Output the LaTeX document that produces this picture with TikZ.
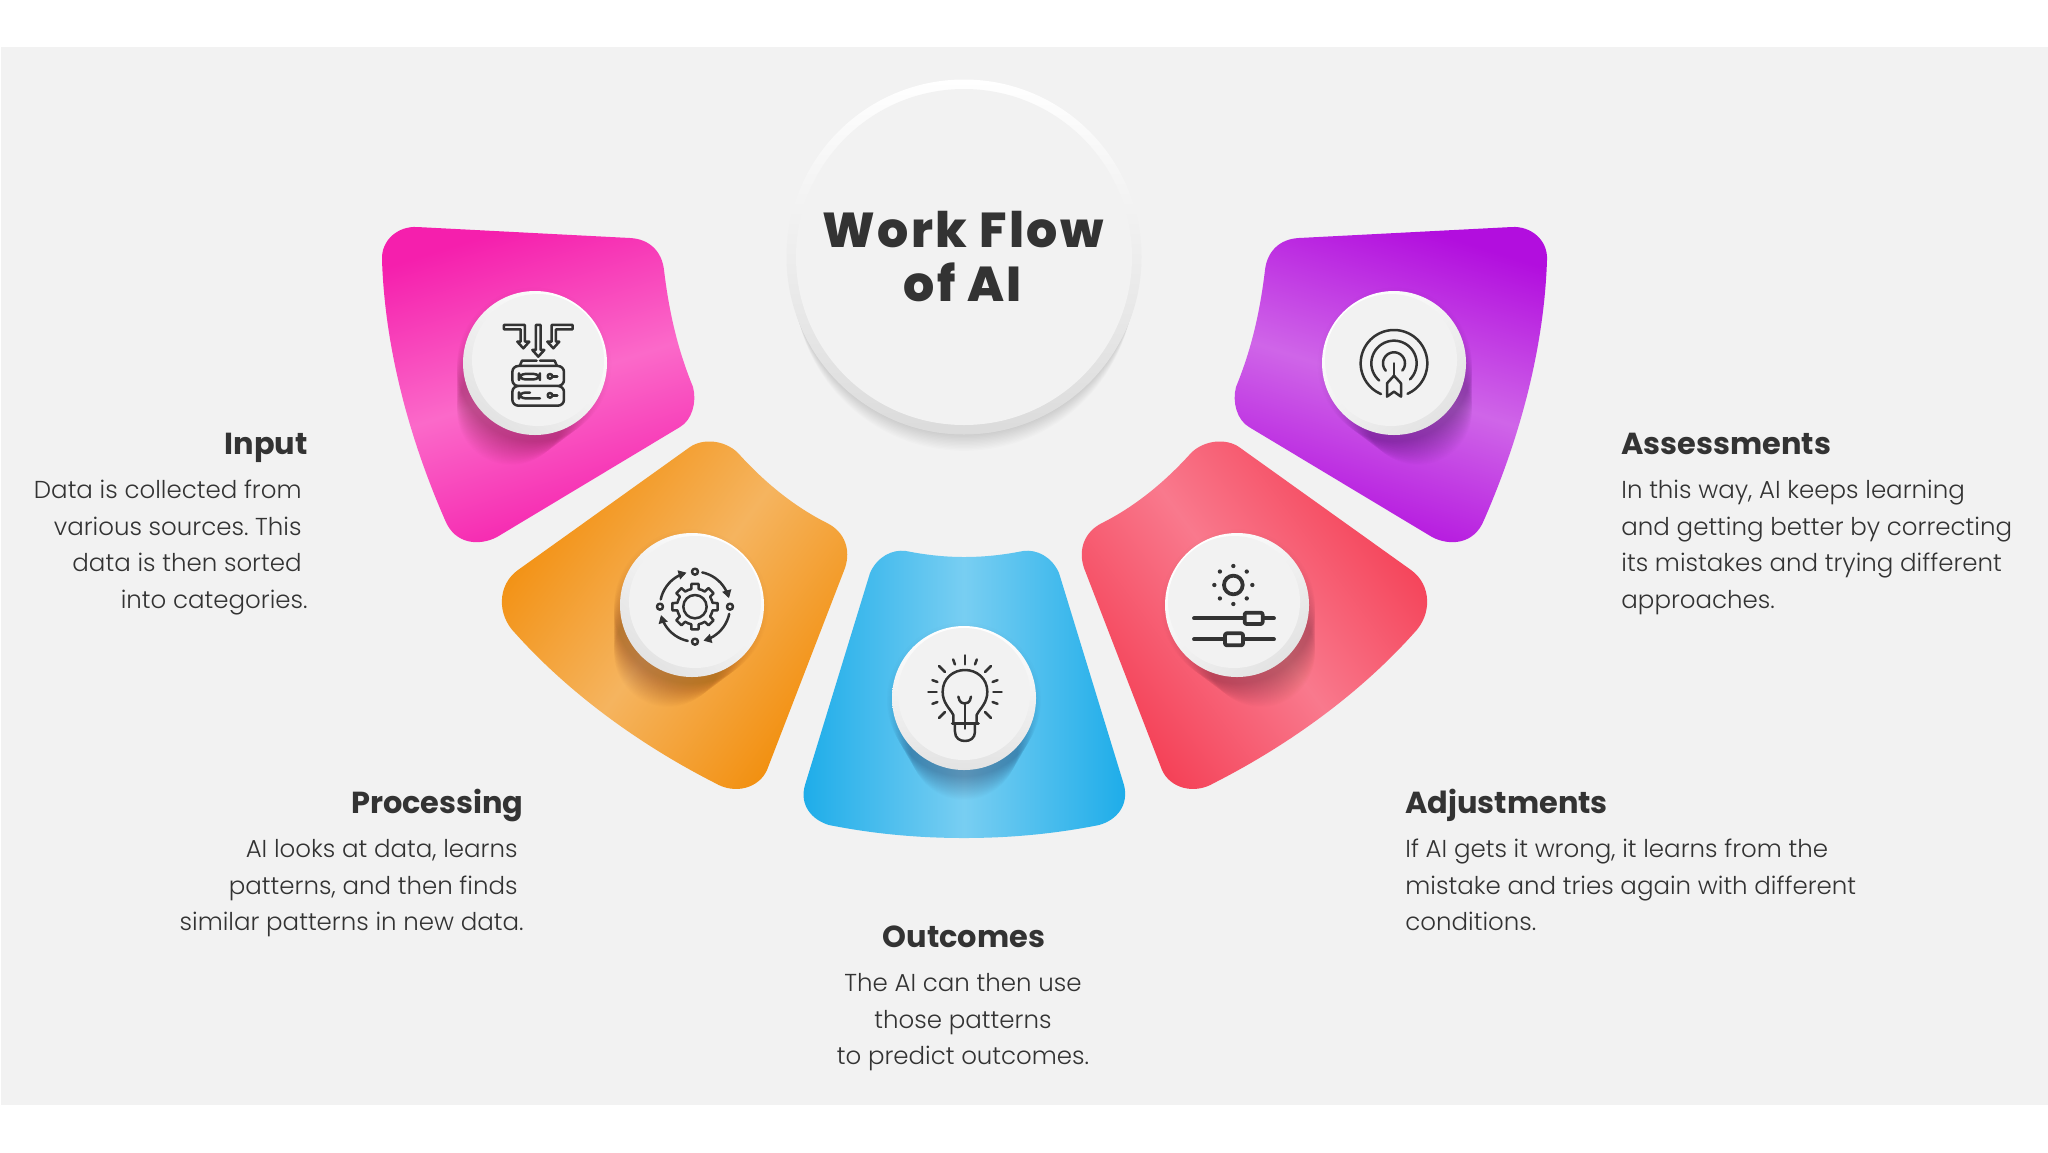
\documentclass[tikz,border=0pt]{standalone}
\usepackage{xcolor}
\usepackage{fontspec}
\usepackage{tikz}
\usetikzlibrary{positioning, arrows.meta}

\setmainfont{Poppins Light}[BoldFont={Poppins Bold}]
\newfontfamily\titlefont{Poppins ExtraBold}[LetterSpace=5]

\definecolor{inkgrey}{HTML}{333333}
\definecolor{panelgrey}{HTML}{F2F2F2}
\definecolor{pinkdark}{HTML}{F51FAD}
\definecolor{pinklight}{HTML}{FB69C9}
\definecolor{orangedark}{HTML}{F28E0C}
\definecolor{orangelight}{HTML}{F5B45F}
\definecolor{bluedark}{HTML}{1CACE9}
\definecolor{bluelight}{HTML}{78CEF2}
\definecolor{reddark}{HTML}{F43E54}
\definecolor{redlight}{HTML}{F9798D}
\definecolor{purpledark}{HTML}{B20EDE}
\definecolor{purplelight}{HTML}{CF65E8}

% the two kinds of side petal, mirrored on the right
\newcommand{\topwing}{(417,227) -- (630,238) .. controls (650,239) and (662,252) .. (664,270)
    .. controls (670,320) and (680,355) .. (693,387) .. controls (697,402) and (692,420) .. (680,427)
    -- (497,537) .. controls (480,546) and (455,545) .. (445,520)
    .. controls (410,440) and (385,350) .. (382,260) .. controls (381,240) and (398,226) .. (417,227) -- cycle}
\newcommand{\midwing}{(690,447) .. controls (703,438) and (725,440) .. (738,453)
    .. controls (765,483) and (795,507) .. (827,523) .. controls (845,532) and (851,550) .. (845,568)
    -- (767,770) .. controls (759,788) and (735,795) .. (715,783)
    .. controls (650,750) and (575,700) .. (515,633) .. controls (497,615) and (497,585) .. (518,570) -- cycle}
\newcommand{\softshadow}[3]{\foreach \k in {1,...,30}
    \fill[black, opacity=0.009] ({#1+\k*(#3)},{#2+\k*1.6}) circle[radius=78-\k*0.8];}

\begin{document}
\begin{tikzpicture}[
    x=0.5pt, y=-0.5pt,
    wing/.style n args={3}{top color=#1, bottom color=#1, middle color=#2, shading angle=#3},
    rimdisc/.style={circle, inner sep=0pt, minimum size=72pt, top color=white, bottom color=black!11, shading angle=#1},
    facedisc/.style={circle, inner sep=0pt, minimum size=66pt, fill=panelgrey},
    headtext/.style={font=\fontsize{15.2}{18}\selectfont\bfseries, text=inkgrey, inner sep=0pt},
    bodytext/.style={font=\fontsize{12.25}{18.25}\selectfont\frenchspacing, text=inkgrey, inner sep=0pt},
    iconline/.style={draw=inkgrey, line width=1.25pt, line cap=round, line join=round},
    iconthick/.style={draw=inkgrey, line width=1.9pt, line cap=round, line join=round}
]
\useasboundingbox (0,0) rectangle (2048,1152);
\fill[white] (0,0) rectangle (2048,1152);
\fill[panelgrey] (1,47) rectangle (2048,1105);

% centre disc
\foreach \k in {1,...,12}
    \fill[black, opacity=0.012] (964,{257+\k*2}) circle[radius=177-\k*0.6];
\node[circle, inner sep=0pt, minimum size=177.5pt, top color=white, bottom color=black!14, middle color=black!7] (hubrim) at (964,257) {};
\node[circle, inner sep=0pt, minimum size=168pt, fill=panelgrey] (hub) at (964,257) {};
\node[font=\titlefont\fontsize{24.5}{27}\selectfont, text=inkgrey, align=center, inner sep=0pt] (title) at (963,257) {Work Flow\\of AI};

% petals
\shade[wing={pinkdark}{pinklight}{17.6}] \topwing;
\shade[wing={orangedark}{orangelight}{53.5}] \midwing;
\shade[wing={bluedark}{bluelight}{90}] (870,573) .. controls (877,557) and (892,549) .. (906,551)
    .. controls (926,555) and (945,557) .. (964,557) .. controls (984,557) and (1003,555) .. (1023,551)
    .. controls (1037,549) and (1052,557) .. (1059,573) -- (1124,785) .. controls (1129,805) and (1117,820) .. (1099,825)
    .. controls (1054,834) and (1009,838) .. (964,838) .. controls (919,838) and (874,834) .. (829,825)
    .. controls (812,820) and (799,805) .. (805,785) -- cycle;
\begin{scope}[shift={(1929,0)}, xscale=-1]
\shade[wing={purpledark}{purplelight}{-17.6}] \topwing;
\shade[wing={reddark}{redlight}{-53.5}] \midwing;
\end{scope}

% buttons
\softshadow{535}{363}{-0.8}
\softshadow{692}{605}{-0.8}
\softshadow{964}{698}{0}
\softshadow{1237}{605}{0.8}
\softshadow{1394}{363}{0.8}
\node[rimdisc=-40] (inputrim) at (535,363) {};
\node[facedisc] (inputface) at (538,360) {};
\node[rimdisc=-40] (processrim) at (692,605) {};
\node[facedisc] (processface) at (695,602) {};
\node[rimdisc=0] (outcomerim) at (964,698) {};
\node[facedisc] (outcomeface) at (964,694) {};
\node[rimdisc=40] (adjustrim) at (1237,605) {};
\node[facedisc] (adjustface) at (1234,602) {};
\node[rimdisc=40] (assessrim) at (1394,363) {};
\node[facedisc] (assessface) at (1391,360) {};

% input icon
\begin{scope}[shift={(360,210)}, scale=0.3333]
\draw[iconline] (432,345) -- (495,345) -- (495,395) -- (508,395) -- (490,415) -- (472,395) -- (482,395) -- (482,358) -- (432,358) -- cycle;
\draw[iconline] (638,345) -- (575,345) -- (575,395) -- (562,395) -- (580,415) -- (598,395) -- (588,395) -- (588,358) -- (638,358) -- cycle;
\draw[iconline] (528,345) -- (542,345) -- (542,420) -- (553,420) -- (535,440) -- (517,420) -- (528,420) -- cycle;
\draw[iconline] (480,466) -- (486,452) -- (530,452) (540,452) -- (584,452) -- (590,466);
\draw[iconline, rounded corners=3pt] (457,468) rectangle (612,528) (457,528) rectangle (612,587);
\draw[iconline, rounded corners=3pt] (477,492) rectangle (540,508);
\draw[iconline, rounded corners=3pt] (540,565) -- (477,565) -- (477,548) -- (510,548);
\foreach \y in {499,556} {
    \draw[iconline] (570,\y) circle[radius=7];
    \draw[iconline] (577,\y) -- (592,\y);
}
\end{scope}

% processing icon
\begin{scope}[shift={(490,430)}, scale=0.3333]
\draw[iconline] (615,530) circle[radius=35];
\foreach \a in {0,45,...,315}
    \draw[iconline, shift={(615,530)}] (\a-22.5:54) -- (\a-12:54) -- (\a-9:69) -- (\a+9:69) -- (\a+12:54) -- (\a+22.5:54);
\foreach \a in {0,90,180,270} {
    \draw[iconline, shift={(615,530)}] (\a:105) circle[radius=9];
    \draw[iconline, -{Triangle[open, length=4pt, width=4.5pt]}, shift={(615,530)}] plot[domain={\a-78}:{\a-14}, samples=12, smooth] ({105*cos(\x)},{105*sin(\x)});
}
\end{scope}

% outcomes icon
\begin{scope}[shift={(790,540)}, scale=0.3333]
\draw[iconline] (490,551) -- (490,525) .. controls (480,505) and (458,490) .. (458,455)
    .. controls (458,415) and (490,390) .. (525,390) .. controls (560,390) and (592,415) .. (592,455)
    .. controls (592,490) and (570,505) .. (560,525) -- (560,551);
\draw[iconline] (505,470) .. controls (508,490) and (520,490) .. (525,490) .. controls (530,490) and (540,490) .. (543,470);
\draw[iconline] (525,490) -- (525,551);
\draw[iconline, line width=1.5pt] (487,551) -- (565,551);
\draw[iconline] (495,551) -- (495,575) .. controls (495,595) and (510,603) .. (525,603) .. controls (540,603) and (555,595) .. (555,575) -- (555,551);
\foreach \a/\ri/\ro in {0/85/110, 45/85/110, 90/85/110, 135/85/110, 180/85/110, 225/85/110, 270/83/110, 315/85/110,
    20/88/104, 160/88/104, 200/88/104, 250/88/104, 290/88/104, 340/88/104}
    \draw[iconline, shift={(525,456)}] (\a:\ri) -- (\a:\ro);
\end{scope}

% adjustments icon
\begin{scope}[shift={(1070,430)}, scale=0.3333]
\draw[iconthick] (490,465) circle[radius=28];
\foreach \a in {0,45,...,315}
    \fill[inkgrey, shift={(490,465)}] (\a:57) circle[radius=6.5];
\draw[iconthick] (372,565) -- (612,565) (372,628) -- (612,628);
\draw[iconthick, fill=panelgrey, rounded corners=1pt] (524,548) rectangle (578,582);
\draw[iconthick, fill=panelgrey, rounded corners=1pt] (465,610) rectangle (519,646);
\end{scope}

% assessments icon
\begin{scope}[shift={(1220,210)}, scale=0.3333]
\foreach \r/\s/\e in {100/113/426, 68/131/405, 33/138/401}
    \draw[iconline, shift={(522,460)}] plot[domain=\s:\e, samples=40, smooth] ({\r*cos(\x)},{\r*sin(\x)});
\draw[iconline] (522,460) -- (522,497);
\draw[iconline] (501,520) -- (522,497) -- (543,520) -- (543,560) -- (522,545) -- (501,560) -- cycle;
\end{scope}

% texts
\node[headtext, anchor=base east] (inputhead) at (308,454) {Input};
\node[bodytext, align=right, anchor=north east] (inputbody) at (308,480) {Data is collected from\kern3pt\\various sources. This\kern3pt\\data is then sorted\kern3pt\\into categories.};
\node[headtext, anchor=base east] (processhead) at (524,813) {Processing};
\node[bodytext, align=right, anchor=north east] (processbody) at (524,839) {AI looks at data, learns\kern3pt\\patterns, and then finds\kern3pt\\similar patterns in new data.};
\node[headtext, anchor=base] (outcomehead) at (964,947) {Outcomes};
\node[bodytext, align=center, anchor=north] (outcomebody) at (963,973) {The AI can then use\\those patterns\\to predict outcomes.};
\node[headtext, anchor=base west] (adjusthead) at (1405,813) {Adjustments};
\node[bodytext, align=left, anchor=north west] (adjustbody) at (1405,839) {If AI gets it wrong, it learns from the\\mistake and tries again with different\\conditions.};
\node[headtext, anchor=base west] (assesshead) at (1621,454) {Assessments};
\node[bodytext, align=left, anchor=north west] (assessbody) at (1621,480) {In this way, AI keeps learning\\and getting better by correcting\\its mistakes and trying different\\approaches.};
\end{tikzpicture}
\end{document}
